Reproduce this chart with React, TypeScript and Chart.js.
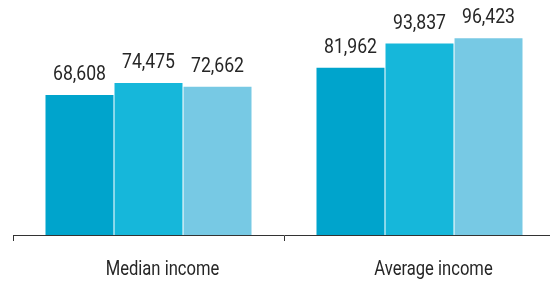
import React, { useEffect, useRef } from "react";
import { Chart, registerables } from "chart.js";

Chart.register(...registerables);

const categories = ["Median income", "Average income"];
const series1 = [68608, 81962];
const series2 = [74475, 93837];
const series3 = [72662, 96423];
const seriesColors = ["#00a4cc", "#16b7da", "#77c9e4"];

const FONT = "Roboto, 'Noto Sans', sans-serif";
const TEXT_COLOR = "#262626";

function drawNarrow(ctx: CanvasRenderingContext2D, text: string, x: number, y: number, sx: number) {
  ctx.save();
  ctx.translate(x, y);
  ctx.scale(sx, 1);
  ctx.fillText(text, 0, 0);
  ctx.restore();
}

const customText = {
  id: "customText",
  afterDatasetsDraw(chart: any) {
    const ctx = chart.ctx as CanvasRenderingContext2D;
    ctx.save();
    ctx.font = `21px ${FONT}`;
    ctx.fillStyle = TEXT_COLOR;
    ctx.textAlign = "center";
    ctx.textBaseline = "alphabetic";
    chart.data.datasets.forEach((ds: any, i: number) => {
      const meta = chart.getDatasetMeta(i);
      meta.data.forEach((bar: any, j: number) => {
        const v = ds.data[j] as number;
        drawNarrow(ctx, v.toLocaleString("en-US"), bar.x, bar.y - 15, 0.84);
      });
    });
    const xs = chart.scales.x;
    const base = chart.chartArea.bottom;
    (chart.data.labels as string[]).forEach((lab, i) => {
      drawNarrow(ctx, lab, xs.getPixelForValue(i) + 14, base + 40, 0.79);
    });
    ctx.restore();
  },
};

export default function App() {
  const ref = useRef<HTMLCanvasElement>(null);
  useEffect(() => {
    if (!ref.current) return;
    const chart = new Chart(ref.current, {
      type: "bar",
      data: {
        labels: categories,
        datasets: [series1, series2, series3].map((d, i) => ({
          label: `s${i}`,
          data: d,
          backgroundColor: seriesColors[i],
          categoryPercentage: 0.764,
          barPercentage: 0.985,
        })),
      },
      options: {
        animation: false,
        responsive: false,
        maintainAspectRatio: false,
        layout: { padding: { left: 13, right: 5, top: 0, bottom: 41 } },
        plugins: { legend: { display: false }, tooltip: { enabled: false } },
        scales: {
          x: {
            offset: true,
            grid: {
              display: true,
              drawOnChartArea: false,
              drawTicks: true,
              tickLength: 6,
              offset: true,
              color: "#333333",
              lineWidth: 1,
            },
            border: { display: true, color: "#333333", width: 1 },
            ticks: { display: false },
          },
          y: {
            display: false,
            min: 0,
            max: 115200,
          },
        },
      },
      plugins: [customText],
    });
    return () => chart.destroy();
  }, []);
  return (
    <div style={{ position: "fixed", left: 0, top: 0, width: 550, height: 282, overflow: "hidden", background: "#fff" }}>
      <canvas ref={ref} width={560} height={282} style={{ display: "block", width: 560, height: 282 }} />
    </div>
  );
}
